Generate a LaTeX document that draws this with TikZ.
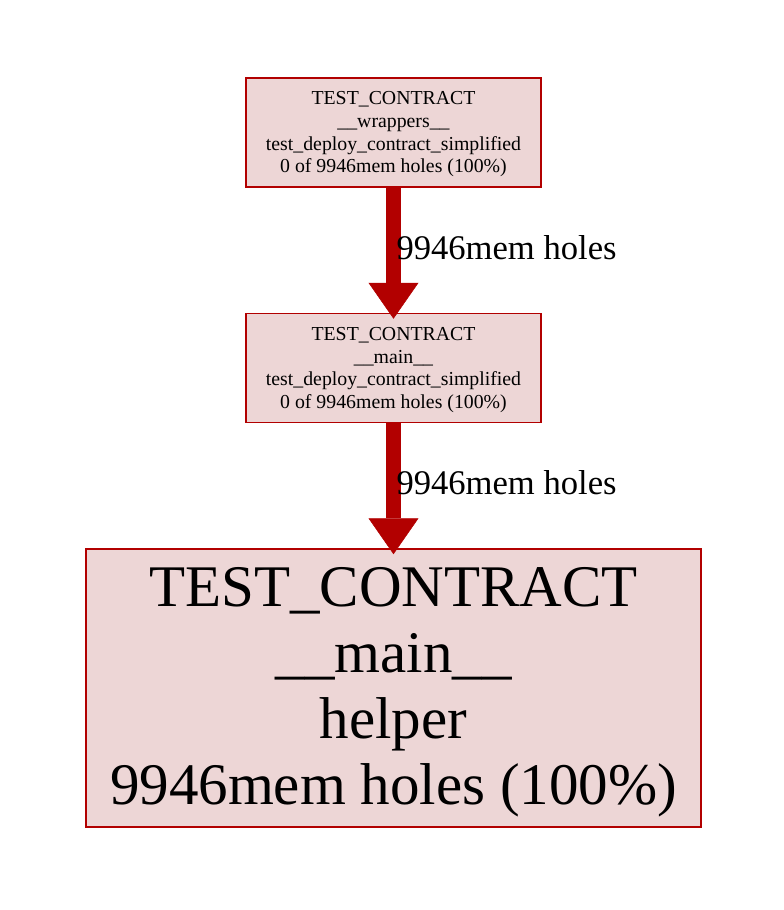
\documentclass[tikz,border=0pt]{standalone}
\usepackage{fontspec}
\setmainfont{Liberation Serif}
\usetikzlibrary{positioning,arrows.meta}
\definecolor{hotred}{RGB}{178,0,0}
\definecolor{hotfill}{RGB}{237,214,214}

\begin{document}
\begin{tikzpicture}[x=1pt,y=1pt,>={Triangle[length=36pt,width=50pt,line width=0.5pt]},
  func/.style={draw=hotred,fill=hotfill,line width=1.5pt,inner sep=0pt,align=center,
    minimum width=295pt,minimum height=109pt,font=\fontsize{19.8}{22.7}\selectfont},
  call/.style={->,draw=hotred,line width=15pt,shorten >=-6pt},
  lbl/.style={right,inner sep=0pt,outer sep=0pt,xshift=3pt,yshift=3pt,font=\fontsize{34.6}{40}\selectfont}]
\useasboundingbox (0,0) rectangle (784,-910);
\node[func] (wrap) at (393.5,-132.5) {\rule{0pt}{17pt}TEST\_CONTRACT\\\_\_wrappers\_\_\\test\_deploy\_contract\_simplified\\0 of 9946mem holes (100\%)};
\node[func] (main) [below=125pt of wrap] {\rule{0pt}{17pt}TEST\_CONTRACT\\\_\_main\_\_\\test\_deploy\_contract\_simplified\\0 of 9946mem holes (100\%)};
\node[func,minimum width=615pt,minimum height=278pt,font=\fontsize{59}{66}\selectfont] (helper) [below=125pt of main] {\rule{0pt}{47pt}TEST\_CONTRACT\\\_\_main\_\_\\helper\\9946mem holes (100\%)};

\path (wrap) edge[call] node[lbl] {9946mem holes} (main)
(main) edge[call] node[lbl] {9946mem holes} (helper);
\end{tikzpicture}
\end{document}
